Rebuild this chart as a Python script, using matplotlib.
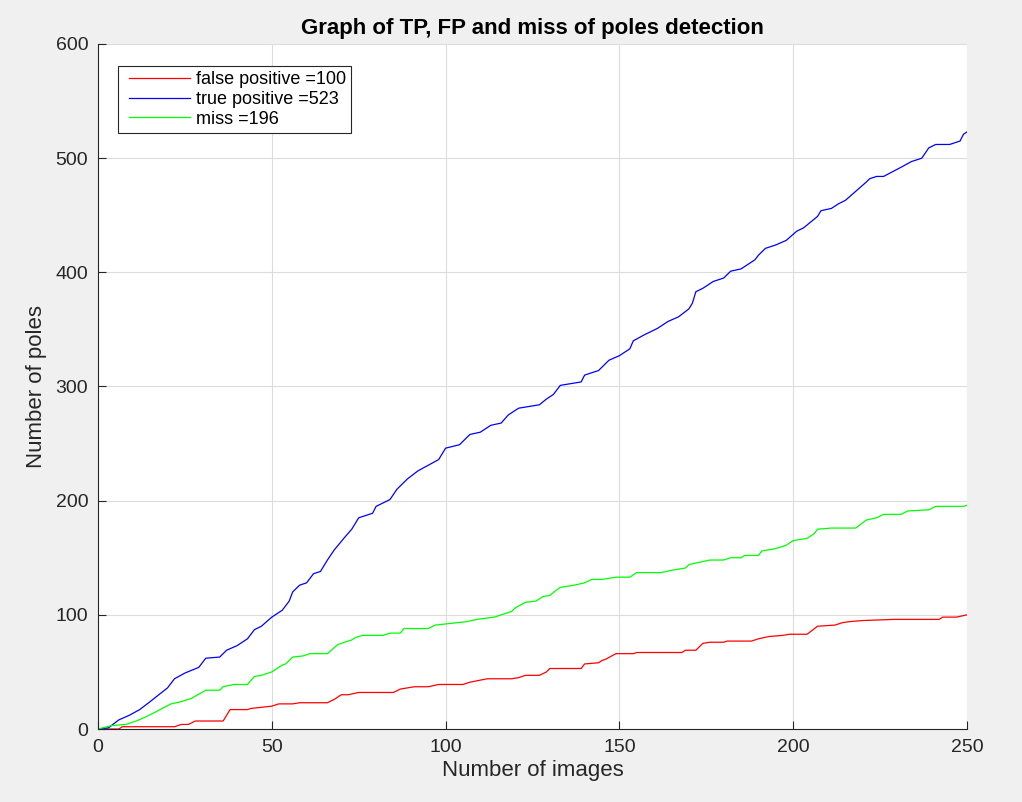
import matplotlib
matplotlib.use("Agg")
import matplotlib.pyplot as plt
from matplotlib.lines import Line2D
from matplotlib.legend_handler import HandlerLine2D

plt.rcParams['font.family'] = ['Liberation Sans', 'DejaVu Sans']

# ---- data (cumulative counts) ----
tp_x = [0,3,6,9,12,15,20,22,25,29,31,35,37,40,43,45,47,50,53,55,56,58,60,62,64,66,68,71,73,75,
        79,80,84,86,89,92,98,100,104,107,110,113,116,118,121,127,129,131,133,139,140,144,147,150,
        153,154,157,161,164,167,170,171,172,174,177,180,182,185,189,190,192,195,198,201,203,207,
        208,211,213,215,218,221,222,224,226,231,234,237,239,241,245,248,249,250]
tp_y = [0,1,8,12,17,24,36,44,49,54,62,63,69,73,79,87,90,98,104,112,120,126,128,136,138,148,157,
        168,175,185,189,195,201,210,219,226,236,246,249,258,260,266,268,275,281,284,289,293,301,
        304,310,314,323,327,333,340,345,351,357,361,368,373,383,386,392,395,401,403,411,415,421,
        424,428,436,439,449,454,456,460,463,471,479,482,484,484,492,497,500,509,512,512,515,521,523]

miss_x = [0,4,8,10,11,14,16,21,24,27,31,35,36,39,43,45,47,50,53,54,56,59,61,66,69,73,74,76,82,
          84,87,88,95,97,100,106,109,114,119,120,123,126,128,130,132,133,137,140,142,145,149,153,
          155,162,165,169,170,173,176,180,182,185,186,190,191,195,198,200,204,206,207,211,218,221,
          224,226,231,233,239,241,249,250]
miss_y = [0,3,4,6,7,11,14,22,24,27,34,34,37,39,39,46,47,50,56,57,63,64,66,66,74,78,80,82,82,
          84,84,88,88,91,92,94,96,98,103,106,111,112,116,117,122,124,126,128,131,131,133,133,
          137,137,139,141,144,146,148,148,150,150,152,152,156,158,161,165,167,171,175,176,176,183,
          185,188,188,191,192,195,195,196]

fp_x = [0,6,7,22,24,26,28,36,38,43,44,47,50,52,56,58,66,68,70,72,75,85,87,91,95,98,105,107,112,
        119,121,123,127,129,130,139,140,144,145,146,149,154,155,168,169,172,174,176,180,181,188,
        190,193,197,199,204,207,212,214,216,220,229,242,243,247,250]
fp_y = [0,0,2,2,4,4,7,7,17,17,18,19,20,22,22,23,23,26,30,30,32,32,35,37,37,39,39,41,44,
        44,45,47,47,50,53,53,57,58,60,61,66,66,67,67,69,69,75,76,76,77,77,
        79,81,82,83,83,90,91,93,94,95,96,96,98,98,100]

labels = ['false positive =100', 'true positive =523', 'miss =196']
title = 'Graph of TP, FP and miss of poles detection'
xticks = [0, 50, 100, 150, 200, 250]
yticks = [0, 100, 200, 300, 400, 500, 600]

# ---- figure ----
W, H = 1022, 802
fig = plt.figure(figsize=(W/100, H/100), dpi=100, facecolor='#f0f0f0')
ax = fig.add_axes([98/W, 1-729/H, (967-98)/W, (729-44)/H])
ax.set_facecolor('white')

ax.plot(fp_x, fp_y, color='#ff0000', lw=0.9, label=labels[0])
ax.plot(tp_x, tp_y, color='#0000ff', lw=0.9, label=labels[1])
ax.plot(miss_x, miss_y, color='#00ff00', lw=0.9, label=labels[2])

ax.set_xlim(0, 250)
ax.set_ylim(0, 600)
ax.set_xticks(xticks)
ax.set_yticks(yticks)
ax.grid(True, color='#dcdcdc', lw=0.8)
ax.set_axisbelow(True)
for s in ['top', 'right']:
    ax.spines[s].set_visible(False)
for s in ['left', 'bottom']:
    ax.spines[s].set_color('#262626')
    ax.spines[s].set_linewidth(0.8)
ax.tick_params(direction='in', length=6, width=0.8, color='#262626',
               labelsize=14, labelcolor='#262626')
ax.tick_params(axis='x', pad=7)
ax.tick_params(axis='y', pad=7)

ax.set_xlabel('Number of images', fontsize=16, color='#262626', labelpad=3)
ax.set_ylabel('Number of poles', fontsize=16, color='#262626', labelpad=6)
ax.set_title(title, fontsize=16, fontweight='bold', pad=7)

leg = ax.legend(loc='upper left', bbox_to_anchor=(20/869, 1-21.7/685), borderaxespad=0,
                fontsize=13, handlelength=3.67, handletextpad=0.33, labelspacing=0.15,
                borderpad=0.3, fancybox=False, framealpha=1, edgecolor='#262626',
                handler_map={Line2D: HandlerLine2D(xpad=0.33)})
leg.get_frame().set_linewidth(0.8)

fig.savefig('out.png', dpi=100, facecolor=fig.get_facecolor())
